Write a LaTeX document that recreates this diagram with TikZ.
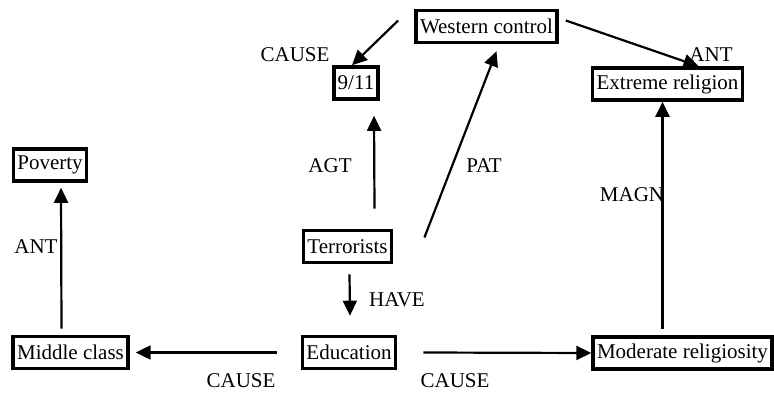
\documentclass[tikz,border=0pt]{standalone}
\usepackage{fontspec}
\setmainfont{Liberation Serif}
\usetikzlibrary{positioning,arrows.meta,calc}

\begin{document}
\begin{tikzpicture}[
  x=0.5pt,y=-0.5pt,
  font=\fontsize{10.5}{12}\selectfont,
  concept/.style={draw,line width=1.8pt,inner xsep=2pt,inner ysep=0pt,minimum height=16pt},
  rel/.style={inner sep=0pt},
  arr/.style={line width=1.1pt,-{Triangle[length=7.5pt,width=7pt]}}
  ]
  \useasboundingbox (0,0) rectangle (774,394);
  % Concepts
  \node[concept] (west)  at (486.5,26.5) {Western control};
  \node[concept] (nine)  at (356,83)     {9/11};
  \node[concept] (extr)  at (667.5,84)   {Extreme religion};
  \node[concept] (pov)   at (50,165)     {Poverty};
  \node[concept] (terr)  at (347.5,246.5) {Terrorists};
  \node[concept] (edu)   at (349,352.5)  {Education};
  \node[concept] (mid)   at (70.5,352.5) {Middle class};
  \node[concept] (mod)   at (682.5,353)  {Moderate religiosity};
  % Relations
  \draw[arr] ($(west.west)+(-16,-6)$) -- ($(nine.north)+(-4,0)$);
  \draw[arr] ($(west.east)+(7,-6)$) -- ($(extr.north)+(31,0)$);
  \draw[arr] ($(terr.north)+(27,-20)$) -- ($(nine.south)+(18,15)$);
  \draw[arr] ($(terr.east)+(31,-9)$) -- ($(west.south)+(10,7)$);
  \draw[arr] ($(terr.south)+(2,10)$) -- ($(edu.north)+(1,-19)$);
  \draw[arr] ($(edu.west)+(-24,0)$) -- ($(mid.east)+(6,0)$);
  \draw[arr] ($(edu.east)+(26,0)$) -- (mod.west);
  \draw[arr] ($(mod.north)+(-20,-6)$) -- ($(extr.south)+(-5,0)$);
  \draw[arr] ($(mid.north)+(-9,-6)$) -- ($(pov.south)+(11,5)$);
  % Labels
  \node[rel] (l1) at (295,55)  {CAUSE};
  \node[rel] (l2) at (711,55)  {ANT};
  \node[rel] (l3) at (330,166) {AGT};
  \node[rel] (l4) at (484,166) {PAT};
  \node[rel] (l5) at (632,195) {MAGN};
  \node[rel] (l6) at (36,247)  {ANT};
  \node[rel] (l7) at (397,300) {HAVE};
  \node[rel] (l8) at (241,381) {CAUSE};
  \node[rel] (l9) at (455,381) {CAUSE};
\end{tikzpicture}
\end{document}
